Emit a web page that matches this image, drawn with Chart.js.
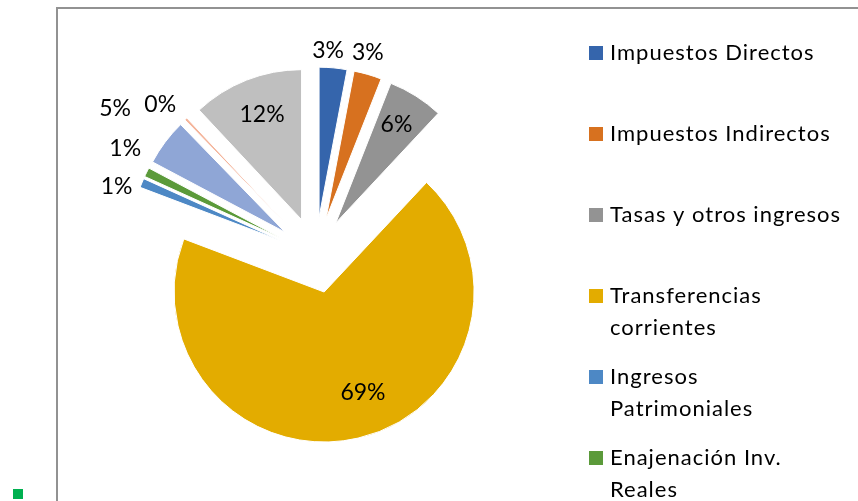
<!DOCTYPE html>
<html>
<head>
<meta charset="utf-8">
<script src="https://cdn.jsdelivr.net/npm/chart.js@4/dist/chart.umd.min.js"></script>
<style>
    body { margin: 0; background: #fff; overflow: hidden; }
    #frame { position: absolute; left: 56px; top: 7px; width: 900px; height: 600px; border-left: 2px solid #929292; border-top: 2px solid #929292; }
    #mark { position: absolute; left: 13px; top: 489px; width: 10px; height: 10px; background: #00b050; }
    #chart { position: absolute; left: 0; top: 0; }
</style>
</head>
<body>
<div id="frame"></div>
<div id="mark"></div>
<canvas id="chart" width="858" height="501"></canvas>
<script>
const categories = [
    'Impuestos Directos',
    'Impuestos Indirectos',
    'Tasas y otros ingresos',
    'Transferencias corrientes',
    'Ingresos Patrimoniales',
    'Enajenación Inv. Reales',
    'Transferencias de capital',
    'Activos financieros',
    'Pasivos financieros'
];
const shares = [3, 3, 6, 69, 1, 1, 5, 0.3, 12];
const sliceColors = ['#3565ac', '#d7711f', '#939393', '#e3ac00', '#4d88c5', '#5b9a3a', '#8fa6d6', '#f4b49a', '#bfbfbf'];

// where each percentage label sits: distance from the slice tip (x radius) and turn from the bisector (deg)
const labelDist = [1.11, 1.14, 0.77, 0.72, 1.15, 1.2, 1.4, 1.19, 0.75];
const labelTurn = [-2.3, -2, -0.6, -8, -4.3, 3.7, -0.9, -2.7, 1];

const explodePlugin = {
    id: 'explode',
    afterDatasetUpdate(chart, args, opts) {
        args.meta.data.forEach(arc => {
            const mid = (arc.startAngle + arc.endAngle) / 2;
            arc.x += Math.cos(mid) * opts.distance;
            arc.y += Math.sin(mid) * opts.distance;
        });
    }
};

const pctLabelPlugin = {
    id: 'pctLabels',
    afterDatasetsDraw(chart) {
        const ctx = chart.ctx;
        const data = chart.data.datasets[0].data;
        const total = data.reduce((s, v) => s + v, 0);
        ctx.save();
        ctx.font = '23px Lato';
        ctx.fillStyle = '#000';
        ctx.textAlign = 'center';
        ctx.textBaseline = 'middle';
        chart.getDatasetMeta(0).data.forEach((arc, i) => {
            const ang = (arc.startAngle + arc.endAngle) / 2 + labelTurn[i] * Math.PI / 180;
            const d = labelDist[i] * arc.outerRadius;
            const text = Math.round(data[i] / total * 100) + '%';
            ctx.fillText(text, arc.x + Math.cos(ang) * d, arc.y + Math.sin(ang) * d);
        });
        ctx.restore();
    }
};

const sideLegendPlugin = {
    id: 'sideLegend',
    afterDraw(chart, args, opts) {
        const ctx = chart.ctx;
        ctx.save();
        ctx.font = '22px Lato';
        ctx.letterSpacing = '1px';
        ctx.textBaseline = 'middle';
        chart.data.labels.forEach((label, i) => {
            const y = opts.top + i * opts.step;
            ctx.fillStyle = chart.data.datasets[0].backgroundColor[i];
            ctx.fillRect(opts.x, y - 7, 14, 14);
            ctx.fillStyle = '#000';
            // wrap words into lines
            const words = label.split(' ');
            const lines = [];
            let line = '';
            words.forEach(w => {
                const test = line ? line + ' ' + w : w;
                if (line && ctx.measureText(test).width > opts.maxWidth) {
                    lines.push(line);
                    line = w;
                } else {
                    line = test;
                }
            });
            lines.push(line);
            lines.forEach((l, j) => {
                ctx.fillText(l, opts.x + 21, y + j * opts.lineHeight);
            });
        });
        ctx.restore();
    }
};

new Chart(document.getElementById('chart'), {
    type: 'pie',
    data: {
        labels: categories,
        datasets: [{
            data: shares,
            backgroundColor: sliceColors,
            borderColor: '#fff',
            borderWidth: 1
        }]
    },
    options: {
        responsive: false,
        animation: false,
        radius: 150,
        layout: { padding: { left: 20, right: 247, top: 10, bottom: 1 } },
        plugins: {
            legend: { display: false },
            tooltip: { enabled: false },
            explode: { distance: 38 },
            sideLegend: { x: 589, top: 53, step: 81, lineHeight: 32, maxWidth: 235 }
        }
    },
    plugins: [explodePlugin, pctLabelPlugin, sideLegendPlugin]
});
</script>
</body>
</html>
